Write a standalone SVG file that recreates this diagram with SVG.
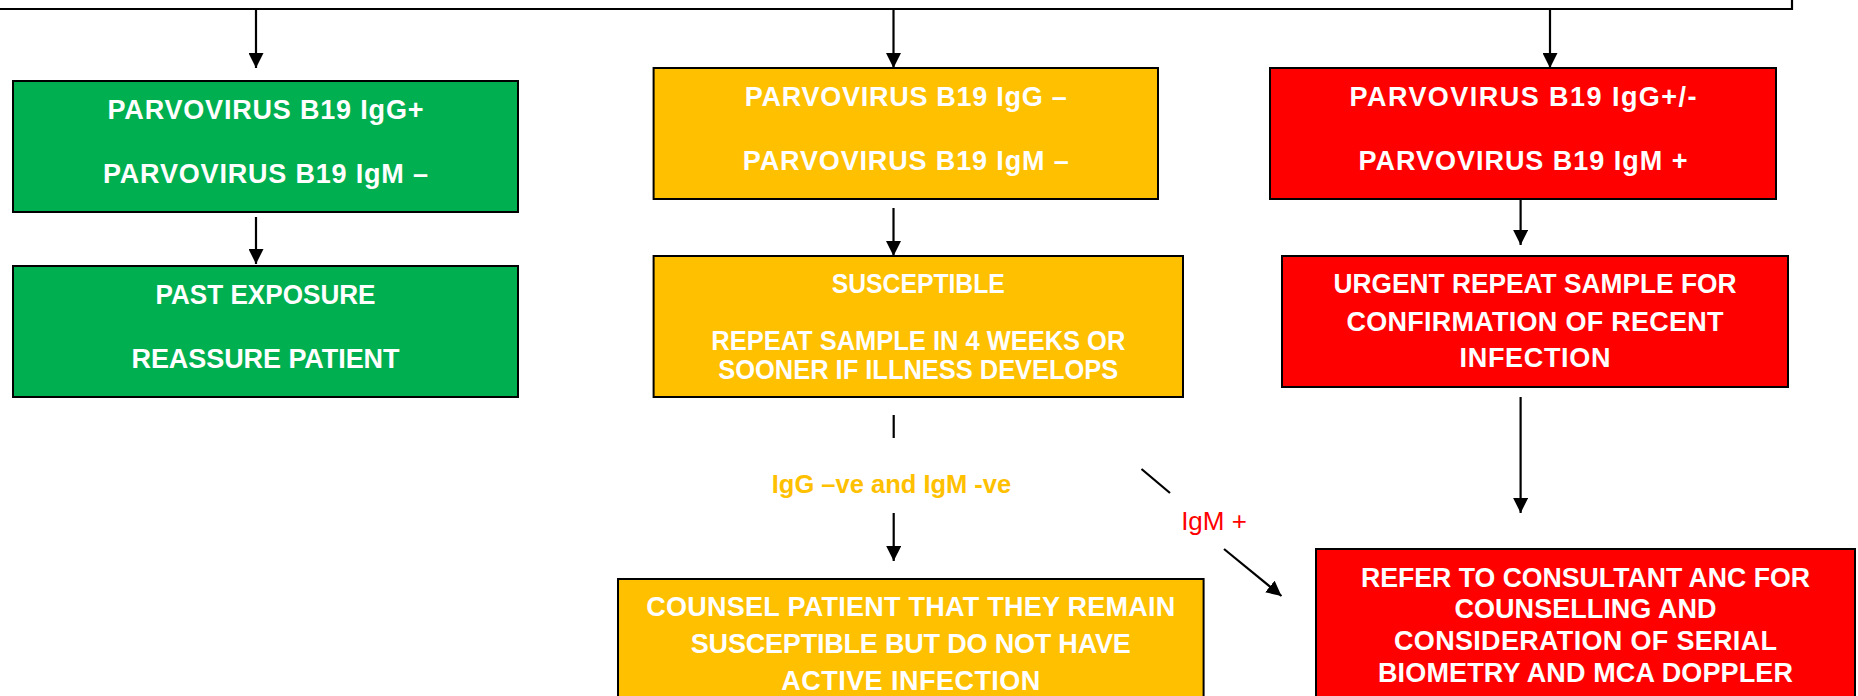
<svg xmlns="http://www.w3.org/2000/svg" width="1858" height="696" viewBox="0 0 1858 696">
<defs>
<style>
.box{stroke:#000;stroke-width:2}
.g{fill:#00B050}.o{fill:#FFC000}.r{fill:#FF0000}
.t{font-family:"Liberation Sans",Arial,sans-serif;font-weight:bold;font-size:27px;fill:#fff;text-anchor:middle}
.c{stroke:#000;stroke-width:2.2;fill:none}
.lbl{font-family:"Liberation Sans",Arial,sans-serif;text-anchor:middle}
</style>
<marker id="ah" viewBox="0 0 10 10" markerUnits="userSpaceOnUse" markerWidth="15" markerHeight="15" refX="10" refY="5" orient="auto">
<path d="M0,0 L10,5 L0,10 z" fill="#000"/>
</marker>
</defs>
<rect width="1858" height="696" fill="#fff"/>
<g id="top-box">
<path class="c" d="M-5,9 L1792,9 L1792,-5"/>
</g>
<g id="connectors">
<line class="c" x1="256" y1="9" x2="256" y2="68" marker-end="url(#ah)"/>
<line class="c" x1="893.5" y1="9" x2="893.5" y2="68" marker-end="url(#ah)"/>
<line class="c" x1="1550" y1="9" x2="1550" y2="68" marker-end="url(#ah)"/>
<line class="c" x1="256" y1="217" x2="256" y2="264" marker-end="url(#ah)"/>
<line class="c" x1="893.5" y1="208" x2="893.5" y2="256" marker-end="url(#ah)"/>
<line class="c" x1="1520.6" y1="199" x2="1520.6" y2="245" marker-end="url(#ah)"/>
<line class="c" x1="893.7" y1="415" x2="893.7" y2="438"/>
<line class="c" x1="893.7" y1="513" x2="893.7" y2="561" marker-end="url(#ah)"/>
<line class="c" x1="1141.5" y1="469" x2="1170" y2="493"/>
<line class="c" x1="1224" y1="549" x2="1281.5" y2="596" marker-end="url(#ah)"/>
<line class="c" x1="1520.6" y1="397" x2="1520.6" y2="513" marker-end="url(#ah)"/>
<text class="lbl" x="891.5" y="493" font-weight="bold" font-size="25.5" fill="#FFC000">IgG –ve and IgM -ve</text>
<text class="lbl" x="1214" y="530" font-size="26" fill="#FF0000">IgM +</text>
</g>
<g id="green1">
<rect class="box g" x="13" y="81" width="505" height="131"/>
<text class="t" x="265.5" y="119" textLength="316" lengthAdjust="spacing">PARVOVIRUS B19 IgG+</text>
<text class="t" x="265.5" y="183" textLength="325" lengthAdjust="spacing">PARVOVIRUS B19 IgM –</text>
</g>
<g id="green2">
<rect class="box g" x="13" y="266" width="505" height="131"/>
<text class="t" x="265.5" y="304" textLength="220" lengthAdjust="spacingAndGlyphs">PAST EXPOSURE</text>
<text class="t" x="265.5" y="368" textLength="268" lengthAdjust="spacing">REASSURE PATIENT</text>
</g>
<g id="orange1">
<rect class="box o" x="653.6" y="68" width="504.4" height="131"/>
<text class="t" x="905.8" y="106" textLength="322" lengthAdjust="spacing">PARVOVIRUS B19 IgG –</text>
<text class="t" x="905.8" y="170" textLength="326" lengthAdjust="spacing">PARVOVIRUS B19 IgM –</text>
</g>
<g id="orange2">
<rect class="box o" x="653.6" y="256" width="529.4" height="141"/>
<text class="t" x="918.3" y="293" textLength="173" lengthAdjust="spacingAndGlyphs">SUSCEPTIBLE</text>
<text class="t" x="918.3" y="350" textLength="414" lengthAdjust="spacingAndGlyphs">REPEAT SAMPLE IN 4 WEEKS OR</text>
<text class="t" x="918.3" y="379" textLength="400" lengthAdjust="spacingAndGlyphs">SOONER IF ILLNESS DEVELOPS</text>
</g>
<g id="orange3">
<rect class="box o" x="618" y="579" width="585.6" height="140"/>
<text class="t" x="910.8" y="616" textLength="529" lengthAdjust="spacing">COUNSEL PATIENT THAT THEY REMAIN</text>
<text class="t" x="910.8" y="653" textLength="440" lengthAdjust="spacing">SUSCEPTIBLE BUT DO NOT HAVE</text>
<text class="t" x="910.8" y="690" textLength="259" lengthAdjust="spacing">ACTIVE INFECTION</text>
</g>
<g id="red1">
<rect class="box r" x="1270" y="68" width="506" height="131"/>
<text class="t" x="1523" y="106" textLength="347" lengthAdjust="spacing">PARVOVIRUS B19 IgG+/-</text>
<text class="t" x="1523" y="170" textLength="329" lengthAdjust="spacing">PARVOVIRUS B19 IgM +</text>
</g>
<g id="red2">
<rect class="box r" x="1282" y="256" width="506" height="131"/>
<text class="t" x="1535" y="293" textLength="403" lengthAdjust="spacingAndGlyphs">URGENT REPEAT SAMPLE FOR</text>
<text class="t" x="1535" y="331" textLength="377" lengthAdjust="spacing">CONFIRMATION OF RECENT</text>
<text class="t" x="1535" y="367" textLength="151" lengthAdjust="spacing">INFECTION</text>
</g>
<g id="red3">
<rect class="box r" x="1316" y="549" width="539" height="170"/>
<text class="t" x="1585.5" y="587" font-size="26.5" textLength="449" lengthAdjust="spacingAndGlyphs">REFER TO CONSULTANT ANC FOR</text>
<text class="t" x="1585.5" y="618" font-size="26.5" textLength="262" lengthAdjust="spacing">COUNSELLING AND</text>
<text class="t" x="1585.5" y="650" font-size="26.5" textLength="383" lengthAdjust="spacing">CONSIDERATION OF SERIAL</text>
<text class="t" x="1585.5" y="682" font-size="26.5" textLength="415" lengthAdjust="spacing">BIOMETRY AND MCA DOPPLER</text>
</g>
</svg>
